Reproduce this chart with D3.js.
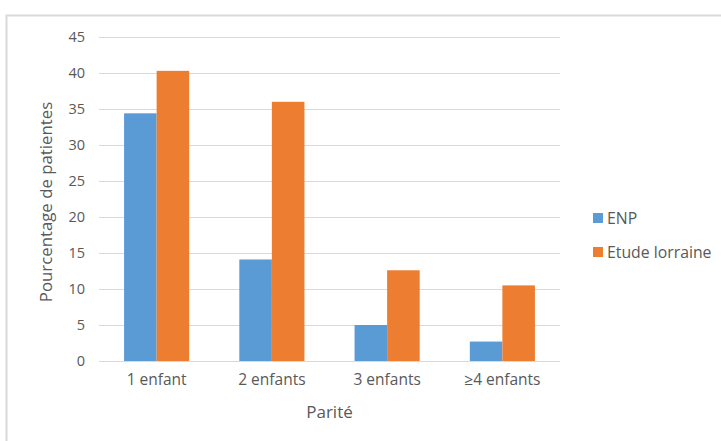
<!DOCTYPE html>
<html><head><meta charset="utf-8">
<script src="https://cdn.jsdelivr.net/npm/d3@7"></script>
<style>
html,body{margin:0;padding:0;background:#fff;}
svg text{font-family:"Open Sans","Liberation Sans",sans-serif;fill:#595959;}
</style></head>
<body>
<svg id="chart" width="721" height="441"></svg>
<script>
const categories = ["1 enfant", "2 enfants", "3 enfants", "≥4 enfants"];
const seriesNames = ["ENP", "Etude lorraine"];
const enp = [34.4, 14.1, 5.0, 2.7];
const lorraine = [40.3, 36.0, 12.6, 10.5];
const yTicks = [0, 5, 10, 15, 20, 25, 30, 35, 40, 45];
const colors = ["#5b9bd5", "#ed7d31"];

const svg = d3.select("#chart");
// chart frame
svg.append("rect").attr("x", 6.5).attr("y", 15.5).attr("width", 730).attr("height", 440)
  .attr("fill", "none").attr("stroke", "#d9d9d9").attr("stroke-width", 2);

const m = {left: 99, right: 560, top: 37, bottom: 361};
const x = d3.scaleBand().domain(categories).range([m.left, m.right]).paddingInner(0.435).paddingOuter(0.2175);
const xs = d3.scaleBand().domain(seriesNames).range([0, x.bandwidth()]);
const y = d3.scaleLinear().domain([0, 45]).range([m.bottom, m.top]);

// gridlines
svg.append("g").selectAll("line").data(yTicks).join("line")
  .attr("x1", m.left).attr("x2", m.right)
  .attr("y1", d => Math.round(y(d)) + 0.5).attr("y2", d => Math.round(y(d)) + 0.5)
  .attr("stroke", "#d9d9d9").attr("stroke-width", 1);

// y axis labels
const yAxis = d3.axisLeft(y).tickValues(yTicks).tickSize(0).tickPadding(14);
const ya = svg.append("g").attr("transform", `translate(${m.left},0)`).call(yAxis);
ya.select(".domain").remove();
ya.selectAll("text").attr("font-size", 14.5).style("fill", "#595959");

// x axis labels
const xAxis = d3.axisBottom(x).tickSize(0).tickPadding(13);
const xa = svg.append("g").attr("transform", `translate(0,${m.bottom})`).call(xAxis);
xa.select(".domain").remove();
xa.selectAll("text").attr("font-size", 15.5).style("fill", "#595959");

// bars
const data = categories.map((c, i) => ({c, vals: [enp[i], lorraine[i]]}));
const g = svg.append("g");
data.forEach(d => {
  d.vals.forEach((v, j) => {
    g.append("rect")
      .attr("x", x(d.c) + xs(seriesNames[j]))
      .attr("y", y(v))
      .attr("width", xs.bandwidth())
      .attr("height", y(0) - y(v))
      .attr("fill", colors[j]);
  });
});

// axis titles
svg.append("text").attr("x", (m.left + m.right) / 2).attr("y", 418)
  .attr("text-anchor", "middle").attr("font-size", 17).text("Parité");
svg.append("text").attr("transform", `translate(52,${(m.top + m.bottom) / 2 + 3}) rotate(-90)`)
  .attr("text-anchor", "middle").attr("font-size", 16.8).text("Pourcentage de patientes");

// legend
const leg = svg.append("g").attr("transform", "translate(593,213)");
seriesNames.forEach((s, i) => {
  const gi = leg.append("g").attr("transform", `translate(0,${i * 34})`);
  gi.append("rect").attr("width", 10).attr("height", 10).attr("fill", colors[i]);
  gi.append("text").attr("x", 14).attr("y", 10.5).attr("font-size", 15.8).text(s);
});
</script>
</body></html>
